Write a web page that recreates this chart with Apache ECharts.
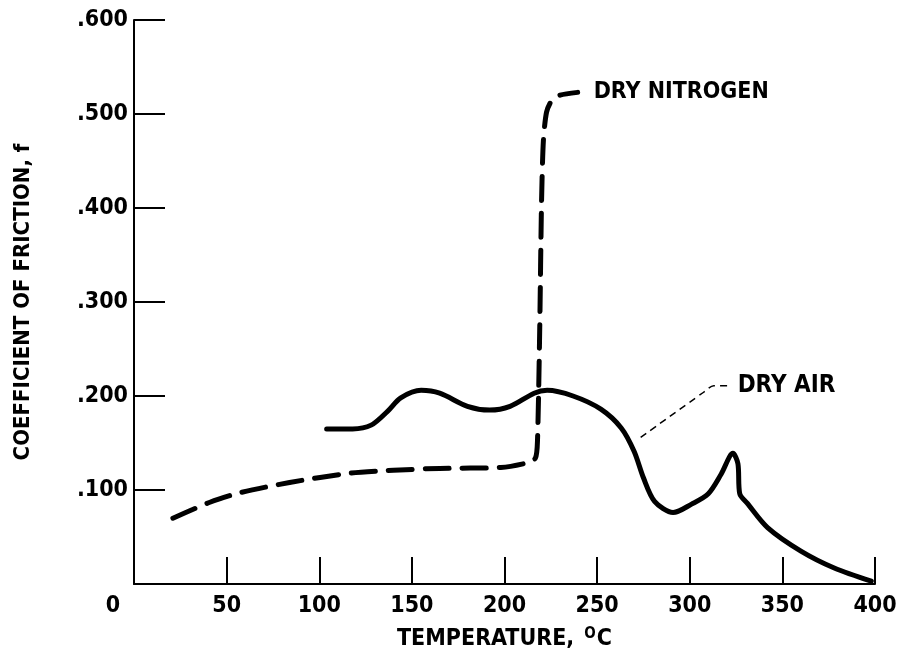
<!DOCTYPE html>
<html>
<head>
<meta charset="utf-8">
<script src="https://cdn.jsdelivr.net/npm/echarts@6/dist/echarts.min.js"></script>
<style>
html,body{margin:0;padding:0;background:#fff;}
#chart{width:900px;height:662px;}
</style>
</head>
<body>
<div id="chart"></div>
<script>
// Tick labels
const xTickValues = [0, 50, 100, 150, 200, 250, 300, 350, 400];
const xTickLabels = ['0', '50', '100', '150', '200', '250', '300', '350', '400'];
const yTickValues = [0, 0.1, 0.2, 0.3, 0.4, 0.5, 0.6];
const yTickLabels = ['', '.100', '.200', '.300', '.400', '.500', '.600'];

// Dry nitrogen (dashed)
const nitrogenTemp = [21, 41, 57, 84, 117, 140, 165, 198, 212.4, 216.7, 217.8, 219, 220, 221, 222.7, 225.4, 230, 239.5];
const nitrogenFric = [0.070, 0.087, 0.097, 0.108, 0.118, 0.121, 0.123, 0.124, 0.129, 0.134, 0.152, 0.270, 0.407, 0.472, 0.502, 0.514, 0.520, 0.523];

// Dry air (solid)
const airTemp = [104, 118, 128, 137, 144, 155, 165, 180, 192, 203, 216, 223, 237, 252, 263, 270, 275, 281, 291, 301, 310, 317, 323.3, 326, 327, 331, 342, 360, 378, 398];
const airFric = [0.165, 0.165, 0.169, 0.184, 0.198, 0.206, 0.203, 0.189, 0.185, 0.189, 0.203, 0.206, 0.200, 0.186, 0.166, 0.141, 0.113, 0.088, 0.076, 0.085, 0.096, 0.117, 0.139, 0.128, 0.096, 0.086, 0.060, 0.035, 0.017, 0.003];

// Leader line to "DRY AIR" label
const leaderTemp = [273.5, 307.5, 313, 321];
const leaderFric = [0.156, 0.204, 0.211, 0.211];

const FONT = '"Liberation Sans Narrow", "DejaVu Sans Condensed", "Roboto Condensed", sans-serif';

function zip(a, b) { return a.map((v, i) => [v, b[i]]); }

const chart = echarts.init(document.getElementById('chart'), null, { renderer: 'canvas' });

const option = {
  animation: false,
  backgroundColor: '#ffffff',
  grid: { left: 134, right: 25, top: 20, bottom: 78, containLabel: false },
  xAxis: {
    type: 'value',
    min: 0, max: 400, interval: 50,
    name: 'TEMPERATURE, {sup|O}C',
    nameLocation: 'middle',
    nameGap: 43,
    nameTextStyle: {
      fontFamily: FONT, fontSize: 23, fontWeight: 'bold', color: '#000',
      rich: {
        sup: { fontFamily: FONT, fontSize: 15, fontWeight: 'bold', color: '#000', verticalAlign: 'top', padding: [0, 1, 10, 3] }
      }
    },
    axisLine: { show: true, lineStyle: { color: '#000', width: 2 } },
    axisTick: { show: true, inside: true, length: 27, lineStyle: { color: '#000', width: 2 } },
    splitLine: { show: false },
    axisLabel: {
      margin: 11,
      fontFamily: FONT, fontSize: 23, fontWeight: 'bold', color: '#000',
      formatter: function (v) {
        const i = xTickValues.indexOf(v);
        if (i === 0) return '{z|' + xTickLabels[0] + '}';
        return i >= 0 ? xTickLabels[i] : '';
      },
      rich: { z: { fontFamily: FONT, fontSize: 23, fontWeight: 'bold', color: '#000', padding: [0, 42, 0, 0] } }
    }
  },
  yAxis: {
    type: 'value',
    min: 0, max: 0.6, interval: 0.1,
    name: 'COEFFICIENT OF FRICTION, f',
    nameLocation: 'middle',
    nameGap: 100,
    nameTextStyle: { fontFamily: FONT, fontSize: 22, fontWeight: 'bold', color: '#000' },
    axisLine: { show: true, lineStyle: { color: '#000', width: 2 } },
    axisTick: { show: true, inside: true, length: 31, lineStyle: { color: '#000', width: 2 } },
    splitLine: { show: false },
    axisLabel: {
      margin: 6,
      fontFamily: FONT, fontSize: 23, fontWeight: 'bold', color: '#000',
      formatter: function (v) {
        const i = yTickValues.findIndex(t => Math.abs(t - v) < 1e-9);
        return i >= 0 ? yTickLabels[i] : '';
      }
    }
  },
  series: [
    {
      name: 'DRY NITROGEN',
      type: 'line',
      data: zip(nitrogenTemp, nitrogenFric),
      smooth: 0.25,
      symbol: 'none',
      lineStyle: { color: '#000', width: 5, type: [24, 13], cap: 'round' },
      endLabel: {
        show: true, formatter: '{a}', distance: 16,
        fontFamily: FONT, fontSize: 23, fontWeight: 'bold', color: '#000'
      }
    },
    {
      name: 'DRY AIR (curve)',
      type: 'line',
      data: zip(airTemp, airFric),
      smooth: 0.3,
      symbol: 'none',
      lineStyle: { color: '#000', width: 5, cap: 'round', join: 'round' }
    },
    {
      name: 'DRY AIR',
      type: 'line',
      data: zip(leaderTemp, leaderFric),
      smooth: 0.3,
      symbol: 'none',
      lineStyle: { color: '#000', width: 1.5, type: [7, 5] },
      endLabel: {
        show: true, formatter: '{a}', distance: 9,
        fontFamily: FONT, fontSize: 24, fontWeight: 'bold', color: '#000'
      }
    }
  ]
};

chart.setOption(option);
</script>
</body>
</html>
